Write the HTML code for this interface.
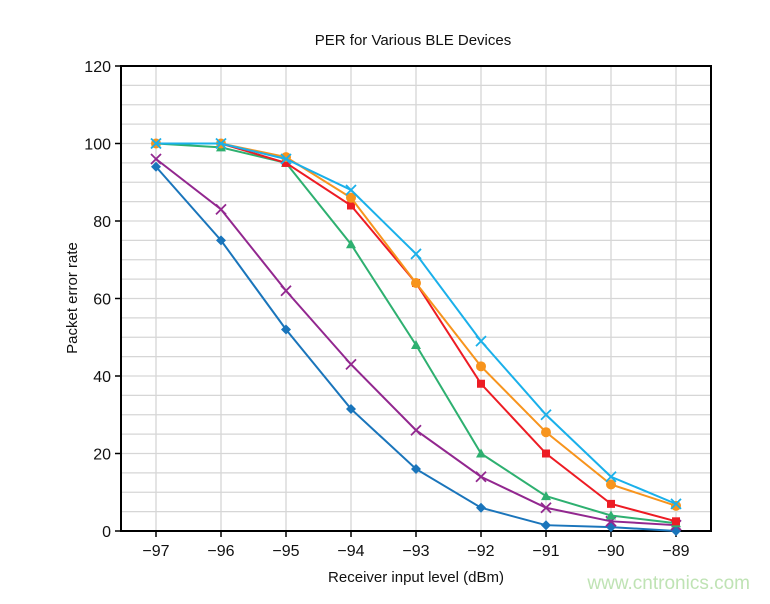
<!DOCTYPE html>
<html><head><meta charset="utf-8"><style>
body{margin:0;background:#fff;width:770px;height:599px;overflow:hidden}
text{font-family:"Liberation Sans",sans-serif;fill:#111}
</style></head><body>
<svg id="s" width="770" height="599" xmlns="http://www.w3.org/2000/svg">
<text x="413" y="45" font-size="15" text-anchor="middle">PER for Various BLE Devices</text>
<g id="grid"></g>
<rect x="121" y="66" width="590" height="465" fill="none" stroke="#000" stroke-width="2"/>
<g id="ser"></g>
<text x="416" y="582" font-size="15" text-anchor="middle">Receiver input level (dBm)</text>
<text transform="translate(77,298) rotate(-90)" font-size="15" text-anchor="middle">Packet error rate</text>
<text x="750" y="589" font-size="19" fill="#bfe3b4" style="fill:#bfe3b4" text-anchor="end">www.cntronics.com</text>
</svg>
<script>
const NS="http://www.w3.org/2000/svg";
const g=document.getElementById('grid'),S=document.getElementById('ser');
function el(p,t,a){const e=document.createElementNS(NS,t);for(const k in a)e.setAttribute(k,a[k]);p.appendChild(e);return e}
const yp=v=>531-v*3.875, xp=i=>156+65*i;
for(let v=5;v<120;v+=5)el(g,'line',{x1:121,x2:711,y1:yp(v),y2:yp(v),stroke:'#d6d6d6','stroke-width':1.3});
for(let i=0;i<9;i++){el(g,'line',{x1:xp(i),x2:xp(i),y1:66,y2:531,stroke:'#d6d6d6','stroke-width':1.3});
 el(g,'line',{x1:xp(i),x2:xp(i),y1:531,y2:537,stroke:'#000','stroke-width':1.5});
 const t=el(g,'text',{x:xp(i),y:556,'font-size':16,'text-anchor':'middle'});t.textContent='\u2212'+(97-i);}
for(let v=0;v<=120;v+=20){el(g,'line',{x1:115,x2:121,y1:yp(v),y2:yp(v),stroke:'#000','stroke-width':1.5});
 const t=el(g,'text',{x:111,y:yp(v)+6,'font-size':16,'text-anchor':'end'});t.textContent=v;}
const D=[
['#1a75bb','d',[94,75,52,31.5,16,6,1.5,1,0]],
['#92278f','x',[96,83,62,43,26,14,6,2.5,1.5]],
['#2eb070','t',[100,99,95,74,48,20,9,4,2]],
['#ed1c24','s',[100,100,95,84,64,38,20,7,2.5]],
['#f7941d','c',[100,100,96.5,86,64,42.5,25.5,12,6.5]],
['#1ab0ea','x',[100,100,96,88,71.5,49,30,14,7]]];
for(const [c,m,v] of D){
 el(S,'polyline',{points:v.map((y,i)=>xp(i)+','+yp(y)).join(' '),fill:'none',stroke:c,'stroke-width':2});
 v.forEach((y,i)=>{const x=xp(i),Y=yp(y);
  if(m=='d')el(S,'polygon',{points:`${x},${Y-5} ${x+5},${Y} ${x},${Y+5} ${x-5},${Y}`,fill:c});
  if(m=='s')el(S,'rect',{x:x-4,y:Y-4,width:8,height:8,fill:c});
  if(m=='c')el(S,'circle',{cx:x,cy:Y,r:5,fill:c});
  if(m=='t')el(S,'polygon',{points:`${x},${Y-5} ${x+5},${Y+4} ${x-5},${Y+4}`,fill:c});
  if(m=='x'){el(S,'line',{x1:x-5,y1:Y-5,x2:x+5,y2:Y+5,stroke:c,'stroke-width':1.8});el(S,'line',{x1:x-5,y1:Y+5,x2:x+5,y2:Y-5,stroke:c,'stroke-width':1.8});}
 });}
</script>
</body></html>
